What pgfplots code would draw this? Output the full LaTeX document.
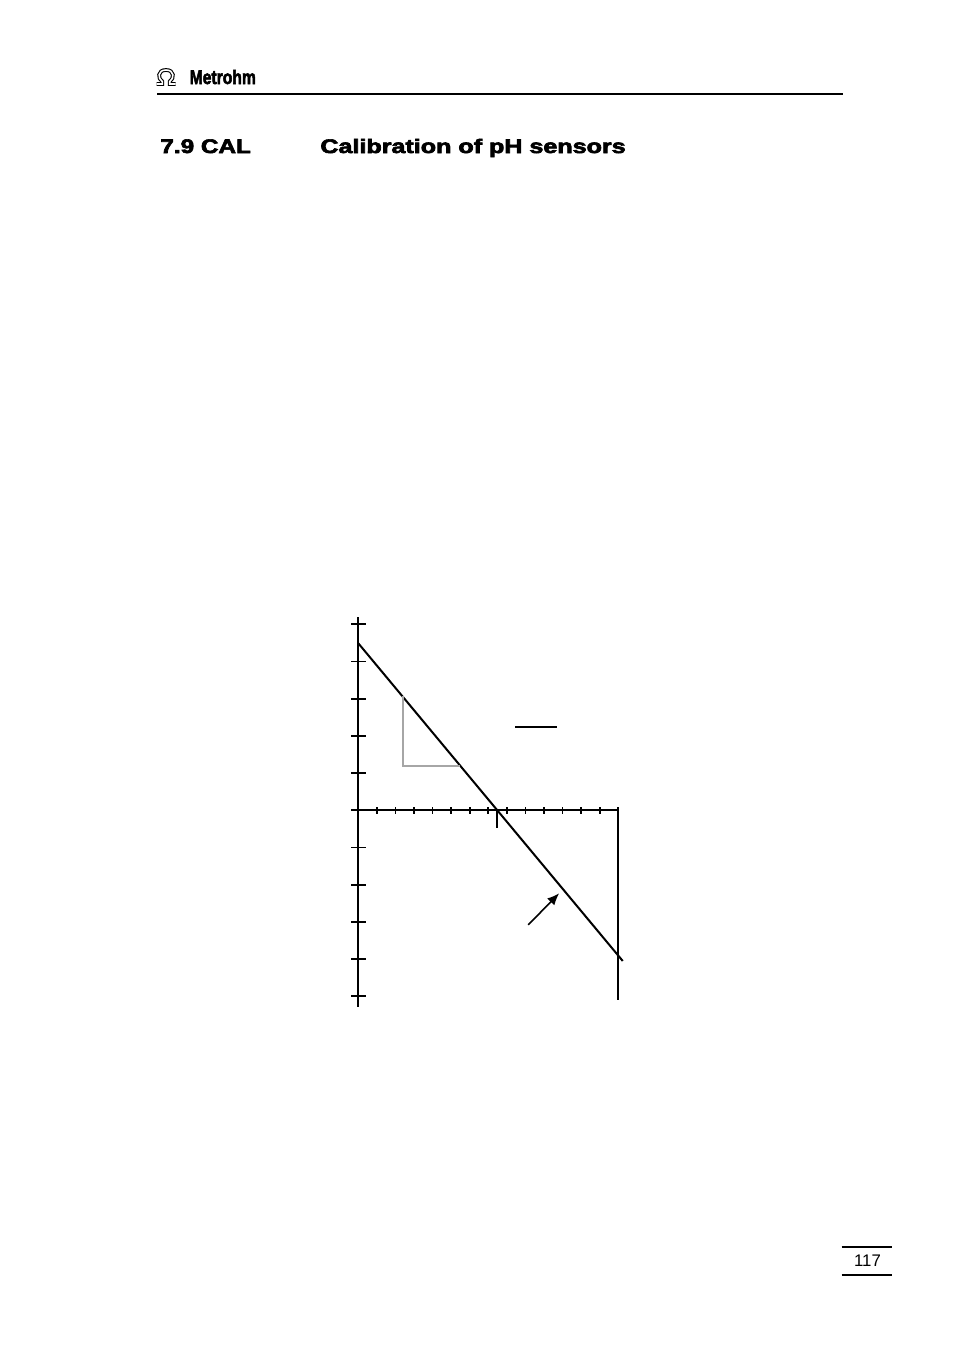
\documentclass[border=0pt]{standalone}
\usepackage{pgfplots}
\pgfplotsset{compat=1.18}
\usetikzlibrary{arrows.meta}
\usepackage{graphicx}
\usepackage{fontspec}
\setmainfont{Liberation Sans}
\newfontfamily\heavy[FakeBold=3]{Liberation Sans Bold}

\begin{document}
\begin{tikzpicture}[x=0.5pt,y=-0.5pt]
% page, in pixels of the scan (y downwards)
\fill[white] (0,0) rectangle (954,1351);

% header: logo, name, rule
\def\omegapath{(156.5,84) -- (162.3,84) -- (162.3,81.5) .. controls (157.5,78.5) and (157.5,70) .. (166,70) .. controls (174.5,70) and (174.5,78.5) .. (169.7,81.5) -- (169.7,84) -- (175.5,84)}
\draw[line width=1.9pt] \omegapath;
\draw[white,line width=0.8pt] \omegapath;
\node[anchor=base west,inner sep=0pt,font=\fontsize{9.8}{10}\heavy]
  at (189.3,84) {\scalebox{0.8}[1]{Metrohm}};
\draw[line width=1.15pt] (157,94) -- (843,94);

% section title
\node[anchor=base west,inner sep=0pt,font=\fontsize{9.8}{10}\heavy]
  at (160,153) {\scalebox{1.24}[1]{7.9 CAL}};
\node[anchor=base west,inner sep=0pt,font=\fontsize{9.8}{10}\heavy]
  at (320,153) {\scalebox{1.28}[1]{Calibration of pH sensors}};

% page number
\draw[line width=1.1pt] (841.7,1247.3) -- (891.7,1247.3);
\draw[line width=0.7pt] (841.7,1275) -- (891.7,1275);
\node[anchor=base,inner sep=0pt,font=\fontsize{8.4}{9}\selectfont]
  at (867.5,1266.7) {117};

% calibration diagram: pH on x, potential on y
\coordinate (O) at (358.3,810.3);
\begin{axis}[
  at={(O)}, anchor=origin,
  x=9.285pt, y=18.6pt,
  xmin=0, xmax=14, ymin=-5.28, ymax=5.19,
  axis lines=middle,
  axis line style={-, line width=0.95pt},
  enlargelimits=false,
  clip=false,
  xtick={1,...,14},
  ytick={-5,...,5},
  xticklabels={}, yticklabels={},
  hide obscured x ticks=false,
  hide obscured y ticks=false,
  tick align=center,
  major tick length=7.3pt,
  xtick style={/pgfplots/major tick length=3.6pt, line width=0.9pt, black},
  ytick style={line width=0.9pt, black},
]
% electrode line
\addplot[black, line width=1pt] coordinates {(0,4.49) (14.24,-4.05)};
% slope triangle
\addplot[gray!70, line width=0.9pt] coordinates {(2.39,3.06) (2.39,1.20) (5.49,1.20)};
% fraction bar
\addplot[black, line width=0.9pt] coordinates {(8.44,2.24) (10.68,2.24)};
% zero point mark
\addplot[black, line width=0.9pt] coordinates {(7.48,0) (7.48,-0.48)};
% right border at pH 14
\addplot[black, line width=0.9pt] coordinates {(14,0.05) (14,-5.10)};
% arrow to the line
\addplot[black, line width=0.8pt, -{Latex[length=6pt,width=5pt]}]
  coordinates {(9.15,-3.08) (10.82,-2.23)};
\end{axis}
\end{tikzpicture}
\end{document}
